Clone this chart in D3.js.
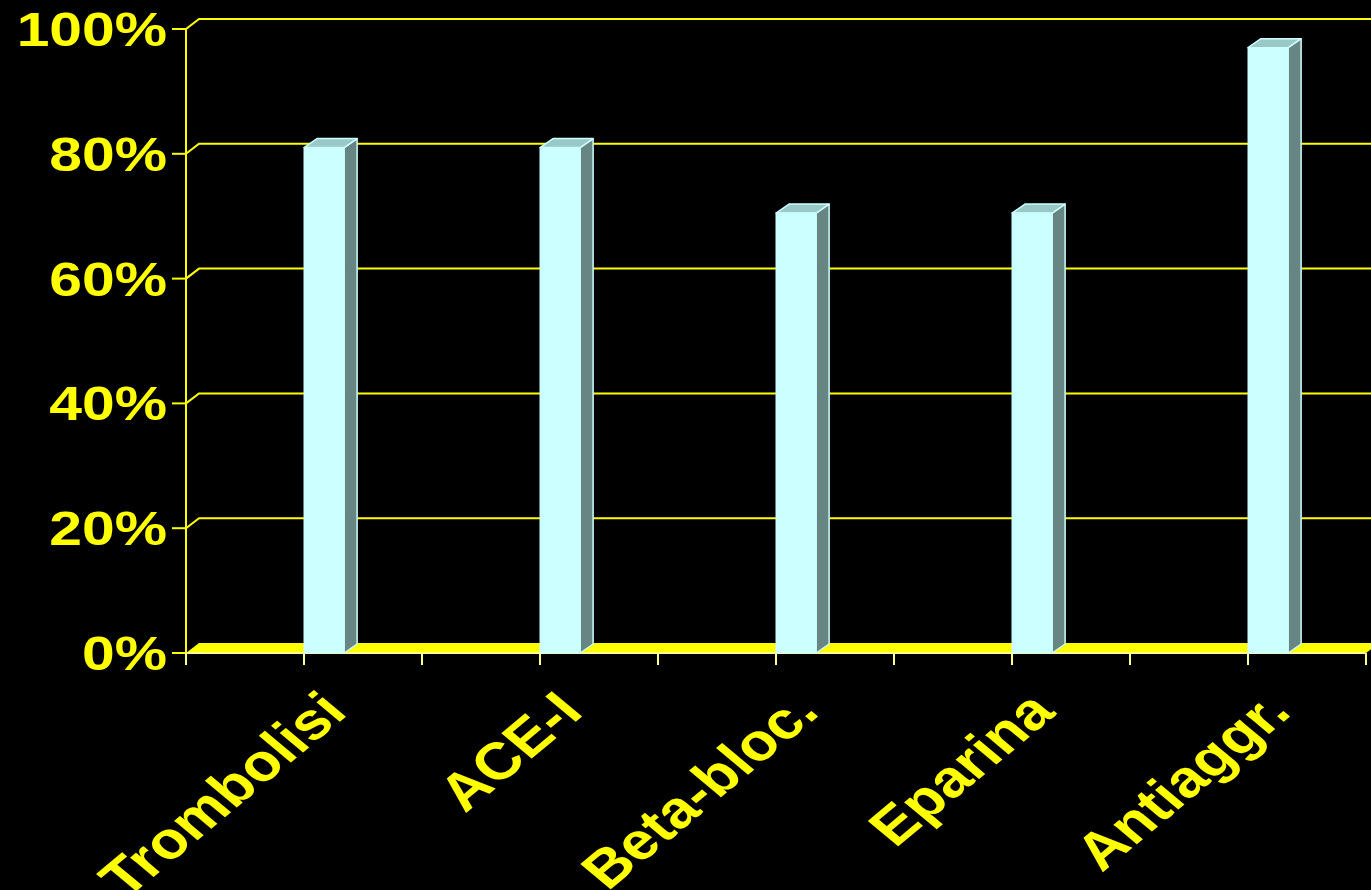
<!DOCTYPE html>
<html>
<head>
<meta charset="utf-8">
<script src="https://cdn.jsdelivr.net/npm/d3@7"></script>
<style>
  html, body { margin: 0; padding: 0; background: #000; }
  svg { display: block; }
  text { font-family: "Liberation Sans", Arial, sans-serif; font-weight: bold; fill: #ffff00; }
</style>
</head>
<body>
<svg id="chart" width="1371" height="890"></svg>
<script>
// Share of patients receiving each therapy (%)
const categories = ["Trombolisi", "ACE-I", "Beta-bloc.", "Eparina", "Antiaggr."];
const values = [81, 81, 70.5, 70.5, 97];
const yTicks = [0, 20, 40, 60, 80, 100];

const W = 1371, H = 890;
const svg = d3.select("#chart");
svg.append("rect").attr("width", W).attr("height", H).attr("fill", "#000");

// plot frame (front plane) and 3-D depth offset
const plotLeft = 186, plotRight = 1366, plotBottom = 653, plotTop = 29;
const dx = 13, dy = -10;       // depth of walls / floor
const bdx = 13, bdy = -9;      // depth of the columns

const x = d3.scaleBand().domain(categories).range([plotLeft, plotRight]).padding(0);
const y = d3.scaleLinear().domain([0, 100]).range([plotBottom, plotTop]);

const yellow = "#ffff00";
const pale = "#ffff8c";

// gridlines on the back wall, with the short diagonal on the side wall
const grid = svg.append("g");
yTicks.filter(t => t > 0).forEach(t => {
  const yy = y(t);
  grid.append("path")
    .attr("d", `M${plotLeft},${yy} L${plotLeft + dx},${yy + dy} L${W + 20},${yy + dy}`)
    .attr("fill", "none").attr("stroke", yellow).attr("stroke-width", 2);
});

// floor slab
svg.append("path")
  .attr("d", `M${plotLeft},${plotBottom} L${plotLeft + dx},${plotBottom + dy} L${plotRight + dx},${plotBottom + dy} L${plotRight},${plotBottom} Z`)
  .attr("fill", yellow);
svg.append("line")
  .attr("x1", plotLeft).attr("x2", plotRight).attr("y1", plotBottom).attr("y2", plotBottom)
  .attr("stroke", pale).attr("stroke-width", 2);

// value axis
svg.append("line")
  .attr("x1", plotLeft).attr("x2", plotLeft).attr("y1", y(100)).attr("y2", plotBottom)
  .attr("stroke", yellow).attr("stroke-width", 2);
const yAxis = svg.append("g");
yTicks.forEach(t => {
  yAxis.append("line")
    .attr("x1", plotLeft - 14).attr("x2", plotLeft).attr("y1", y(t)).attr("y2", y(t))
    .attr("stroke", yellow).attr("stroke-width", 2);
  yAxis.append("text")
    .attr("transform", `translate(167,${y(t) + 17}) scale(1.2,1)`)
    .attr("text-anchor", "end")
    .attr("font-size", 49)
    .text(t + "%");
});

// category ticks: band edges and band centres
const tickXs = [];
categories.forEach(c => { tickXs.push(x(c)); tickXs.push(x(c) + x.bandwidth() / 2); });
tickXs.push(x(categories[categories.length - 1]) + x.bandwidth());
svg.append("g").selectAll("line").data(tickXs).join("line")
  .attr("x1", d => d).attr("x2", d => d)
  .attr("y1", plotBottom).attr("y2", plotBottom + 12)
  .attr("stroke", pale).attr("stroke-width", 2);

// 3-D columns
const barW = x.bandwidth() * 0.17;
const bars = svg.append("g").selectAll("g").data(categories.map((c, i) => ({ c, v: values[i] }))).join("g");
bars.each(function (d) {
  const g = d3.select(this);
  const x0 = x(d.c) + x.bandwidth() / 2, x1 = x0 + barW;
  const yv = y(d.v), y0 = y(0);
  g.append("path") // side face
    .attr("d", `M${x1},${yv} L${x1 + bdx},${yv + bdy} L${x1 + bdx},${y0 + bdy} L${x1},${y0} Z`)
    .attr("fill", "#678583").attr("stroke", "#ccffff").attr("stroke-width", 1.5).attr("stroke-linejoin", "round");
  g.append("path") // top face
    .attr("d", `M${x0},${yv} L${x0 + bdx},${yv + bdy} L${x1 + bdx},${yv + bdy} L${x1},${yv} Z`)
    .attr("fill", "#99c9c7").attr("stroke", "#ccffff").attr("stroke-width", 1.5).attr("stroke-linejoin", "round");
  g.append("rect") // front face
    .attr("x", x0).attr("y", yv).attr("width", barW).attr("height", y0 - yv)
    .attr("fill", "#ccffff").attr("stroke", "#ccffff").attr("stroke-width", 1);
});

// category labels, slanted
svg.append("g").selectAll("text").data(categories).join("text")
  .attr("transform", c => `translate(${x(c) + x.bandwidth() / 2 + 45},${714}) scale(1.2,1) rotate(-45)`)
  .attr("text-anchor", "end")
  .attr("font-size", 52)
  .text(c => c);
</script>
</body>
</html>
